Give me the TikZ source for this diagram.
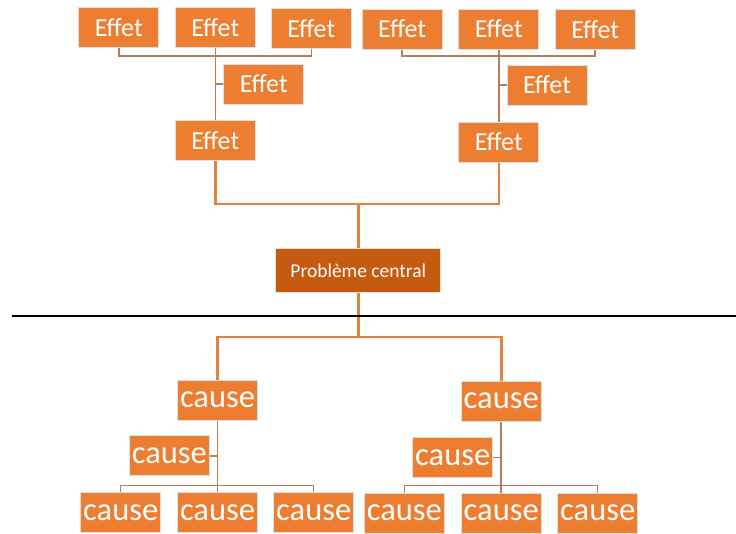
\documentclass[tikz,border=0pt]{standalone}
\usepackage{fontspec}
\setmainfont{Carlito}
\begin{document}
\definecolor{boxfill}{HTML}{ED7D31}
\definecolor{corefill}{HTML}{C55A11}
\definecolor{boxedge}{HTML}{E2E0DE}
\definecolor{twig}{HTML}{B47E5B}
\definecolor{trunk}{HTML}{E2823F}
\begin{tikzpicture}[x=1pt,y=-1pt,
  effbox/.style={draw=boxedge,line width=1pt,fill=boxfill,text=white,
    minimum width=80pt,minimum height=40pt,inner sep=0pt,
    font=\fontsize{26}{26}\selectfont},
  causebox/.style={effbox,font=\fontsize{32.5}{32.5}\selectfont},
  corebox/.style={draw=boxedge,line width=1pt,fill=corefill,text=white,
    minimum width=165pt,minimum height=44pt,inner sep=0pt,
    font=\fontsize{19.5}{19.5}\selectfont},
  twigline/.style={draw=twig,line width=1.5pt},
  trunkline/.style={draw=trunk,line width=2.6pt}]
\useasboundingbox (0,0) rectangle (736,533);

% effects, left branch
\node[effbox] (e1) at (118.8,27.8) {Effet};
\node[effbox] (e2) at (215.3,27.8) {Effet};
\node[effbox] (e3) at (311.3,28.5) {Effet};
\node[effbox] (e5) at (263.8,84) {Effet};
\node[effbox] (e4) at (215.3,140.8) {Effet};
% effects, right branch
\node[effbox] (f1) at (402.2,29) {Effet};
\node[effbox] (f2) at (498.8,29) {Effet};
\node[effbox] (f3) at (595.2,29.2) {Effet};
\node[effbox] (f5) at (547,85) {Effet};
\node[effbox] (f4) at (498.8,142) {Effet};
% central problem
\node[corebox] (pb) at (358.3,270.5) {Problème central};
% causes, left branch
\node[causebox] (c1) at (217.5,400.2) {cause};
\node[causebox] (c2) at (169.3,455.8) {cause};
\node[causebox] (c3) at (120.7,512.3) {cause};
\node[causebox] (c4) at (217.5,512.3) {cause};
\node[causebox] (c5) at (313.7,512.3) {cause};
% causes, right branch
\node[causebox] (d1) at (501.2,401) {cause};
\node[causebox] (d2) at (452.7,457.3) {cause};
\node[causebox] (d3) at (404.3,513) {cause};
\node[causebox] (d4) at (501.2,513) {cause};
\node[causebox] (d5) at (597.7,513) {cause};

% bus levels
\coordinate (eb) at (0,56);
\coordinate (fb) at (0,56);
\coordinate (top) at (0,204);
\coordinate (low) at (0,337);
\coordinate (cb) at (0,485.3);
\coordinate (db) at (0,485.7);

% thin links, effects
\draw[twigline] (e1.south) -- (e1.south |- eb) -| (e3.south);
\draw[twigline] (e2.south) -- (e4.north);
\draw[twigline] (e5.west) -- (e5.west -| e2.south);
\draw[twigline] (f1.south) -- (f1.south |- fb) -| (f3.south);
\draw[twigline] (f2.south) -- (f4.north);
\draw[twigline] (f5.west) -- (f5.west -| f2.south);

% thin links, causes
\draw[twigline] (c1.south) -- (c4.north);
\draw[twigline] (c2.east) -- (c2.east -| c1.south);
\draw[twigline] (c3.north) -- (c3.north |- cb) -| (c5.north);
\draw[twigline] (d1.south) -- (d4.north);
\draw[twigline] (d2.east) -- (d2.east -| d1.south);
\draw[twigline] (d3.north) -- (d3.north |- db) -| (d5.north);

% main links
\draw[trunkline] (e4.south) -- (e4.south |- top) -| (f4.south);
\draw[trunkline] (pb.north |- top) -- (pb.north);
\draw[trunkline] (pb.south) -- (pb.south |- low);
\draw[trunkline] (c1.north) -- (c1.north |- low) -| (d1.north);

% separator
\coordinate (sl) at (12,316);
\coordinate (sr) at (736,316);
\draw[line width=2.2pt,black] (sl) -- (sr);
\end{tikzpicture}
\end{document}
